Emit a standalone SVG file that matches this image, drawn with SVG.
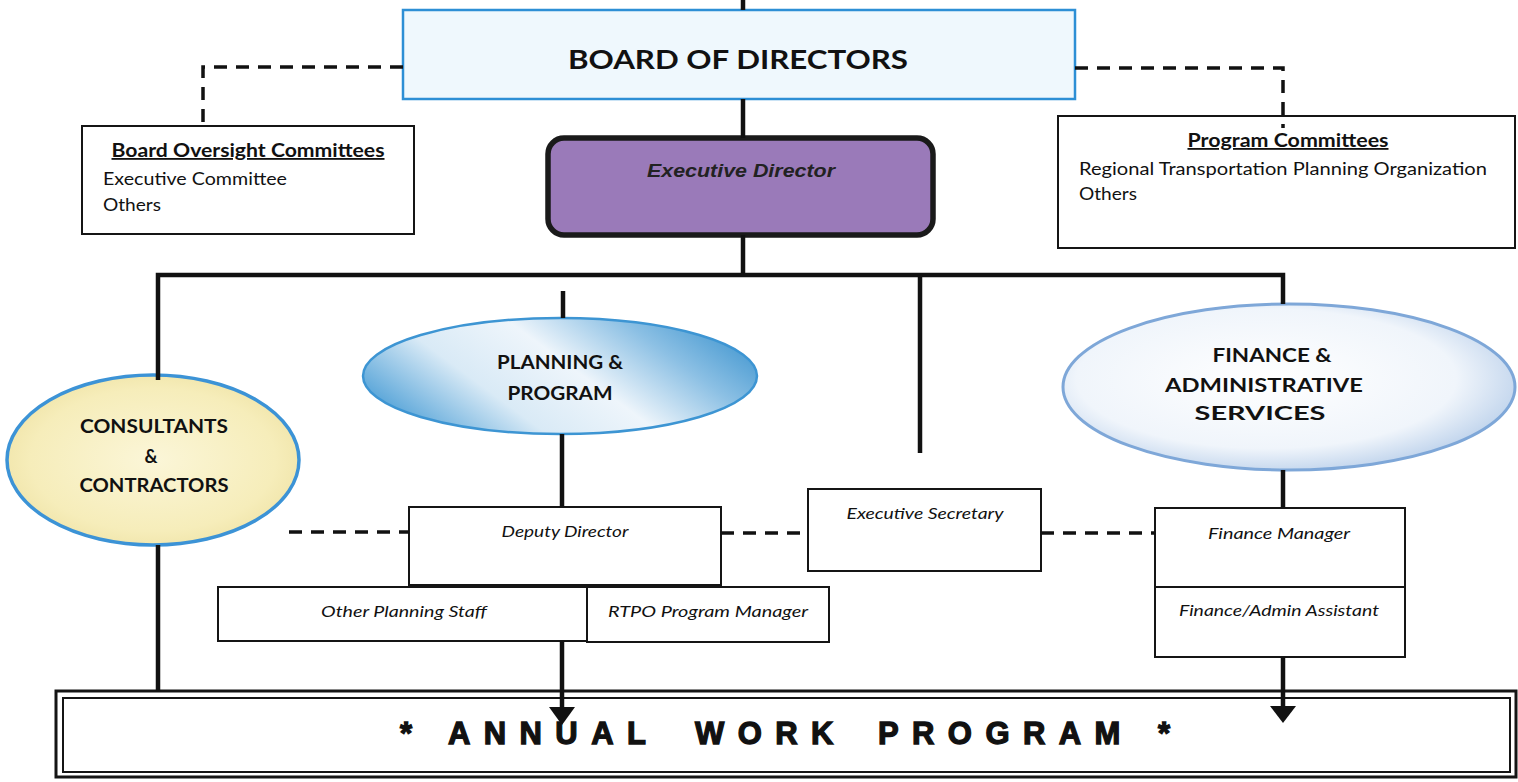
<svg xmlns="http://www.w3.org/2000/svg" width="1518" height="782" viewBox="0 0 1518 782">
<style>
.box{fill:#ffffff;stroke:#151515;stroke-width:2}
.solid{stroke:#111;stroke-width:4.5;fill:none}
.dash{stroke:#111;stroke-width:3.5;fill:none;stroke-dasharray:13 9}
.lbl{font-family:Lato,"Open Sans",sans-serif;fill:#111}
.b{font-weight:bold}
.it{font-style:italic}
.ul{text-decoration:underline}
.ell{font-family:Lato,"Open Sans",sans-serif;font-weight:bold;font-size:18px;fill:#111;text-anchor:middle}
.role{font-family:Lato,"Open Sans",sans-serif;font-style:italic;font-size:16px;fill:#111;text-anchor:middle}
.awp{font-family:"Liberation Sans",Arial,sans-serif;font-weight:bold;font-size:31px;fill:#111;stroke:#111;stroke-width:1.3;letter-spacing:13.4px}
</style>
<defs>
<linearGradient id="gPlan" x1="0" y1="0.7" x2="1" y2="0.3">
<stop offset="0" stop-color="#4d9fd6"/>
<stop offset="0.3" stop-color="#d9eaf6"/>
<stop offset="0.55" stop-color="#eef5fb"/>
<stop offset="0.8" stop-color="#8cc0e4"/>
<stop offset="1" stop-color="#4a9bd2"/>
</linearGradient>
<radialGradient id="gFin" cx="0.45" cy="0.45" r="0.6">
<stop offset="0" stop-color="#ffffff"/>
<stop offset="0.7" stop-color="#f0f5fb"/>
<stop offset="1" stop-color="#b9cfea"/>
</radialGradient>
<radialGradient id="gCon" cx="0.5" cy="0.5" r="0.6">
<stop offset="0" stop-color="#fbf6d8"/>
<stop offset="0.7" stop-color="#f6edba"/>
<stop offset="1" stop-color="#ede0a0"/>
</radialGradient>
</defs>

<rect width="1518" height="782" fill="#ffffff"/>

<g id="board">
<rect x="403" y="10" width="672" height="89" fill="#eff8fd" stroke="#2d8fd5" stroke-width="2.5"/>
<text class="lbl b" x="738" y="69" font-size="27" text-anchor="middle" textLength="340" lengthAdjust="spacingAndGlyphs">BOARD OF DIRECTORS</text>
</g>

<g id="board-oversight">
<rect class="box" x="82" y="126" width="332" height="108"/>
<text class="lbl b ul" x="248" y="157" font-size="18" text-anchor="middle" textLength="273" lengthAdjust="spacingAndGlyphs">Board Oversight Committees</text>
<text class="lbl" x="103" y="185" font-size="17" textLength="184" lengthAdjust="spacingAndGlyphs">Executive Committee</text>
<text class="lbl" x="103" y="211" font-size="17" textLength="58" lengthAdjust="spacingAndGlyphs">Others</text>
</g>

<g id="program-committees">
<rect class="box" x="1058" y="116" width="457" height="132"/>
<text class="lbl b ul" x="1288" y="147" font-size="18" text-anchor="middle" textLength="201" lengthAdjust="spacingAndGlyphs">Program Committees</text>
<text class="lbl" x="1079" y="175" font-size="17" textLength="408" lengthAdjust="spacingAndGlyphs">Regional Transportation Planning Organization</text>
<text class="lbl" x="1079" y="200" font-size="17" textLength="58" lengthAdjust="spacingAndGlyphs">Others</text>
</g>

<g id="executive-director">
<rect x="548" y="138" width="385" height="97" rx="16" fill="#9a7ab9" stroke="#1a1a1a" stroke-width="5.5"/>
<text x="741" y="177" font-family="'Liberation Sans',Arial,sans-serif" font-weight="bold" font-style="italic" font-size="19" fill="#222" text-anchor="middle" textLength="188" lengthAdjust="spacingAndGlyphs">Executive Director</text>
</g>

<g id="consultants">
<ellipse cx="153" cy="460" rx="146" ry="85" fill="url(#gCon)" stroke="#3c93d6" stroke-width="3.5"/>
<text class="ell" x="154" y="433" textLength="148" lengthAdjust="spacingAndGlyphs">CONSULTANTS</text>
<text class="ell" x="151" y="463">&amp;</text>
<text class="ell" x="154" y="492" textLength="149" lengthAdjust="spacingAndGlyphs">CONTRACTORS</text>
</g>

<g id="planning">
<ellipse cx="560" cy="376" rx="197" ry="58" fill="url(#gPlan)" stroke="#3d95d3" stroke-width="2.5"/>
<text class="ell" x="560" y="369" textLength="126" lengthAdjust="spacingAndGlyphs">PLANNING &amp;</text>
<text class="ell" x="560" y="400" textLength="105" lengthAdjust="spacingAndGlyphs">PROGRAM</text>
</g>

<g id="finance">
<ellipse cx="1289" cy="387" rx="226" ry="83" fill="url(#gFin)" stroke="#7ea7d8" stroke-width="3"/>
<text class="ell" x="1272" y="362" textLength="119" lengthAdjust="spacingAndGlyphs">FINANCE &amp;</text>
<text class="ell" x="1264" y="392" textLength="198" lengthAdjust="spacingAndGlyphs">ADMINISTRATIVE</text>
<text class="ell" x="1260" y="420" textLength="131" lengthAdjust="spacingAndGlyphs">SERVICES</text>
</g>

<g id="deputy-director">
<rect class="box" x="409" y="507" width="312" height="78"/>
<text class="role" x="565" y="537" textLength="127" lengthAdjust="spacingAndGlyphs">Deputy Director</text>
</g>

<g id="other-planning-staff">
<rect class="box" x="218" y="587" width="369" height="54"/>
<text class="role" x="404" y="617" textLength="166" lengthAdjust="spacingAndGlyphs">Other Planning Staff</text>
</g>

<g id="rtpo-manager">
<rect class="box" x="587" y="587" width="242" height="55"/>
<text class="role" x="708" y="617" textLength="200" lengthAdjust="spacingAndGlyphs">RTPO Program Manager</text>
</g>

<g id="executive-secretary">
<rect class="box" x="808" y="489" width="233" height="82"/>
<text class="role" x="925" y="519" textLength="157" lengthAdjust="spacingAndGlyphs">Executive Secretary</text>
</g>

<g id="finance-manager">
<rect class="box" x="1155" y="508" width="250" height="79"/>
<text class="role" x="1279" y="539" textLength="142" lengthAdjust="spacingAndGlyphs">Finance Manager</text>
</g>

<g id="finance-assistant">
<rect class="box" x="1155" y="587" width="250" height="70"/>
<text class="role" x="1279" y="616" textLength="200" lengthAdjust="spacingAndGlyphs">Finance/Admin Assistant</text>
</g>

<g id="annual-work-program">
<rect x="56" y="691" width="1460" height="86" fill="#ffffff" stroke="#151515" stroke-width="3"/>
<rect x="63" y="698" width="1447" height="74" fill="none" stroke="#151515" stroke-width="2"/>
<text class="awp" y="744"><tspan x="400">*</tspan><tspan x="448">ANNUAL</tspan><tspan x="695">WORK</tspan><tspan x="878">PROGRAM</tspan><tspan x="1158">*</tspan></text>
</g>

<g id="connectors">
<line class="solid" x1="743" y1="0" x2="743" y2="10"/>
<line class="solid" x1="743" y1="99" x2="743" y2="138"/>
<line class="solid" x1="743" y1="235" x2="743" y2="275"/>
<polyline class="solid" stroke-width="5" points="158,380 158,275 1283,275 1283,304"/>
<line class="solid" x1="920" y1="275" x2="920" y2="453"/>
<line class="solid" x1="563" y1="291" x2="563" y2="318"/>
<line class="solid" x1="562" y1="434" x2="562" y2="507"/>
<line class="solid" x1="158" y1="545" x2="158" y2="691"/>
<line class="solid" x1="1283" y1="470" x2="1283" y2="508"/>
<line class="solid" x1="562" y1="641" x2="562" y2="710"/>
<polygon points="549,707 575,707 562,725" fill="#111"/>
<line class="solid" x1="1283" y1="657" x2="1283" y2="710"/>
<polygon points="1270,706 1296,706 1283,723" fill="#111"/>
<polyline class="dash" points="403,67 203,67 203,126"/>
<polyline class="dash" points="1075,68 1283,68 1283,128"/>
<line class="dash" x1="289" y1="532" x2="409" y2="532" stroke-dasharray="3 12 14 9 14 9 14 9 14 9 14 9 14 9"/>
<line class="dash" x1="721" y1="533" x2="808" y2="533"/>
<line class="dash" x1="1041" y1="533" x2="1155" y2="533"/>
</g>
</svg>
